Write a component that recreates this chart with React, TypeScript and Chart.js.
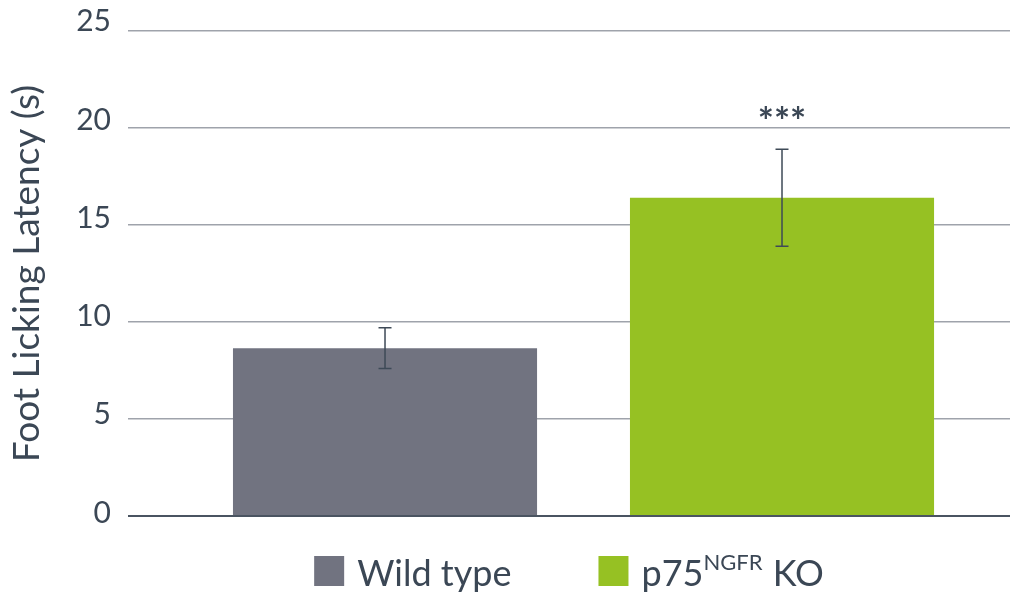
import React, { useEffect, useRef } from 'react';
import { Chart, registerables } from 'chart.js';

Chart.register(...registerables);

// ---- data ----
const groupNames = ['Wild type', 'p75NGFR KO'];
const legendMain = ['Wild type', 'p75'];
const legendSup = ['', 'NGFR'];
const legendTail = ['', ' KO'];
const groupX = [1, 2];
const meanValues = [8.65, 16.4];
const errorValues = [1.05, 2.5];
const significance = ['', '***'];
const yTicks = [0, 5, 10, 15, 20, 25];
const barColors = ['#717380', '#96c123'];
const axisTitle = 'Foot Licking Latency (s)';

const FONT = 'Lato, "Noto Sans", sans-serif';
const TEXT = '#3b4755';

const overlayPlugin = {
  id: 'overlay',
  afterDatasetsDraw(chart: any) {
    const { ctx, chartArea, scales } = chart;
    const y = scales.y;
    ctx.save();
    // zero line
    const y0 = y.getPixelForValue(0);
    ctx.strokeStyle = '#4a5461';
    ctx.lineWidth = 2;
    ctx.beginPath();
    ctx.moveTo(chartArea.left, y0);
    ctx.lineTo(chartArea.right, y0);
    ctx.stroke();
    // error bars + significance
    chart.data.datasets.forEach((ds: any, i: number) => {
      const meta = chart.getDatasetMeta(i);
      const bar = meta.data[0];
      if (!bar) return;
      const x = bar.x;
      const top = y.getPixelForValue(meanValues[i] + errorValues[i]);
      const bot = y.getPixelForValue(meanValues[i] - errorValues[i]);
      ctx.strokeStyle = '#3e4a57';
      ctx.lineWidth = 1.5;
      ctx.beginPath();
      ctx.moveTo(x, top);
      ctx.lineTo(x, bot);
      ctx.moveTo(x - 6.5, top);
      ctx.lineTo(x + 6.5, top);
      ctx.moveTo(x - 6.5, bot);
      ctx.lineTo(x + 6.5, bot);
      ctx.stroke();
      if (significance[i]) {
        ctx.fillStyle = TEXT;
        ctx.font = `bold 38px ${FONT}`;
        ctx.textAlign = 'center';
        ctx.textBaseline = 'alphabetic';
        ctx.fillText(significance[i], x, top - 14);
      }
    });
    ctx.restore();
  },
  afterDraw(chart: any) {
    const { ctx, chartArea } = chart;
    ctx.save();
    const mainFont = `36px ${FONT}`;
    const supFont = `22px ${FONT}`;
    const box = 30;
    const boxGap = 13;
    const itemGap = 87;
    const supGapL = 0;
    const supGapR = 1;
    const widths: number[] = [];
    legendMain.forEach((m, i) => {
      ctx.font = mainFont;
      let w = ctx.measureText(m).width + ctx.measureText(legendTail[i]).width;
      ctx.font = supFont;
      if (legendSup[i]) w += ctx.measureText(legendSup[i]).width + supGapL + supGapR;
      widths.push(box + boxGap + w);
    });
    const total = widths.reduce((a, b) => a + b, 0) + itemGap * (widths.length - 1);
    let x = (chartArea.left + chartArea.right) / 2 - total / 2;
    const baseline = 586;
    legendMain.forEach((m, i) => {
      ctx.fillStyle = barColors[i];
      ctx.fillRect(x, baseline - 30, box, box);
      let tx = x + box + boxGap;
      ctx.fillStyle = TEXT;
      ctx.textAlign = 'left';
      ctx.textBaseline = 'alphabetic';
      ctx.font = mainFont;
      ctx.fillText(m, tx, baseline);
      tx += ctx.measureText(m).width;
      if (legendSup[i]) {
        tx += supGapL;
        ctx.font = supFont;
        ctx.fillText(legendSup[i], tx, baseline - 16);
        tx += ctx.measureText(legendSup[i]).width + supGapR;
      }
      ctx.font = mainFont;
      if (legendTail[i]) ctx.fillText(legendTail[i], tx, baseline);
      x += widths[i] + itemGap;
    });
    ctx.restore();
  },
};

export default function App() {
  const ref = useRef<HTMLCanvasElement | null>(null);
  useEffect(() => {
    if (!ref.current) return;
    const chart = new Chart(ref.current, {
      type: 'bar',
      data: {
        datasets: groupNames.map((name, i) => ({
          label: name,
          data: [{ x: groupX[i], y: meanValues[i] }],
          backgroundColor: barColors[i],
          borderWidth: 0,
          grouped: false,
          categoryPercentage: 1,
          barPercentage: 0.766,
        })),
      },
      options: {
        animation: false,
        responsive: true,
        maintainAspectRatio: false,
        layout: { padding: { top: 31, bottom: 83, right: 1, left: 0 } },
        plugins: {
          legend: { display: false },
          tooltip: { enabled: false },
        },
        scales: {
          x: {
            type: 'linear',
            display: false,
            offset: false,
            bounds: 'data',
            min: 0.3526,
            max: 2.5743,
            afterBuildTicks: (scale: any) => {
              scale.ticks = [];
            },
          },
          y: {
            position: 'left',
            min: 0,
            max: 25,
            afterBuildTicks: (scale: any) => {
              scale.ticks = yTicks.map((v) => ({ value: v }));
            },
            afterFit: (scale: any) => {
              scale.width = 0;
              scale.paddingTop = 0;
              scale.paddingBottom = 0;
            },
            border: { display: false },
            grid: {
              drawTicks: false,
              color: (c: any) => (c.tick && c.tick.value === 0 ? 'rgba(0,0,0,0)' : '#9fa3ab'),
              lineWidth: 1.5,
            },
            ticks: { display: false },
          },
          yLabels: {
            type: 'linear',
            position: 'left',
            min: -0.15,
            max: 24.52,
            afterBuildTicks: (scale: any) => {
              scale.ticks = yTicks.map((v) => ({ value: v }));
            },
            afterFit: (scale: any) => {
              scale.width = 128;
              scale.paddingTop = 0;
              scale.paddingBottom = 0;
            },
            border: { display: false },
            grid: { display: false, drawTicks: false },
            ticks: {
              padding: 17,
              color: TEXT,
              font: { family: FONT, size: 30 },
            },
            title: {
              display: true,
              text: axisTitle,
              color: TEXT,
              font: { family: FONT, size: 37 },
              padding: { top: 5, bottom: 0 },
            },
          },
        },
      },
      plugins: [overlayPlugin],
    } as any);
    return () => chart.destroy();
  }, []);
  return (
    <div style={{ position: 'fixed', left: 0, top: 0, width: 1011, height: 599, background: '#fff' }}>
      <canvas ref={ref} />
    </div>
  );
}
